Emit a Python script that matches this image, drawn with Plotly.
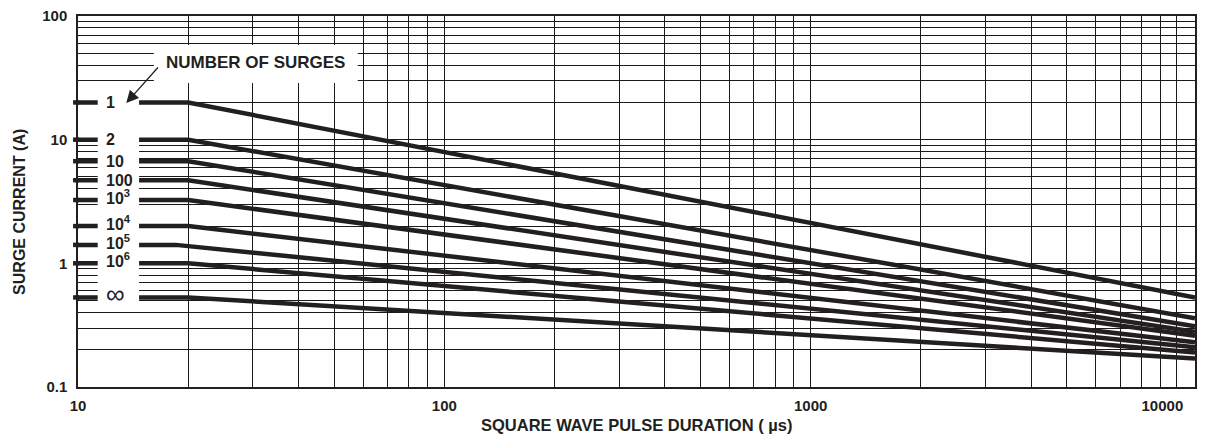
import numpy as np
import plotly.graph_objects as go

# ---------------- data ----------------
surge_labels = ["1", "2", "10", "100", "10<sup>3</sup>", "10<sup>4</sup>",
                "10<sup>5</sup>", "10<sup>6</sup>", "∞"]
flat_current_a = [20.0, 10.0, 6.7, 4.7, 3.25, 2.0, 1.41, 1.0, 0.53]
knee_duration_us = [20, 20, 20, 20, 20, 20, 18.5, 20, 20]
end_current_a = [0.53, 0.36, 0.31, 0.28, 0.26, 0.23, 0.21, 0.19, 0.17]
start_duration_us = 10
end_duration_us = 11200

x_decades = [10, 100, 1000, 10000]
x_decade_labels = ["10", "100", "1000", "10000"]
x_minor = [d * 10 ** k for k in range(1, 4) for d in range(2, 10)]
y_decades = [0.1, 1, 10, 100]
y_decade_labels = ["0.1", "1", "10", "100"]
y_minor = [round(d * 10.0 ** k, 4) for k in range(-1, 2) for d in range(2, 10)]

# ---------------- style ----------------
W, H = 1213, 441
ML, MR, MT, MB = 78, 1, 16, 54
PW, PH = W - ML - MR, H - MT - MB
INK = "#231f20"
GRID = "#1a1a1a"
FONT = "Liberation Sans"
NBSP = "\u00a0"


def px_x(p):                 # screen pixel -> paper
    return (p - ML) / PW


def px_y(p):
    return (H - MB - p) / PH


# last x label sits left of its grid line in the reference
x_tick_text = x_decade_labels[:-1] + [x_decade_labels[-1] + NBSP * 7]

fig = go.Figure()

for lab, yf, xk, ye in zip(surge_labels, flat_current_a, knee_duration_us, end_current_a):
    fig.add_trace(go.Scatter(
        x=[start_duration_us, xk, end_duration_us],
        y=[yf, yf, ye],
        mode="lines",
        line=dict(color=INK, width=4.5),
        name=lab,
        showlegend=False,
        hoverinfo="skip",
    ))

shapes = []
# white label column and legend box (interrupt grid and lines)
shapes.append(dict(type="rect", xref="paper", yref="paper",
                   x0=px_x(98), x1=px_x(140), y0=px_y(306), y1=px_y(86),
                   fillcolor="white", line=dict(width=0), layer="above"))
shapes.append(dict(type="rect", xref="paper", yref="paper",
                   x0=px_x(155), x1=px_x(362), y0=px_y(83), y1=px_y(45),
                   fillcolor="white", line=dict(width=0), layer="above"))
# short stubs of each curve left of the axis
for yf in flat_current_a:
    shapes.append(dict(type="line", xref="paper", yref="y",
                       x0=px_x(73), x1=px_x(79), y0=yf, y1=yf,
                       line=dict(color=INK, width=4.5), layer="above"))

annotations = []
for lab, yf in zip(surge_labels, flat_current_a):
    is_inf = lab == "∞"
    annotations.append(dict(
        x=px_x(104), xref="paper", y=np.log10(yf), yref="y",
        text="<b>%s</b>" % lab if not is_inf else lab,
        showarrow=False, xanchor="left", yanchor="middle",
        yshift=3 if is_inf else (3 if "sup" in lab else 0),
        font=dict(family=FONT, size=26 if is_inf else 16, color=INK),
    ))
annotations.append(dict(
    x=px_x(258), y=px_y(63), xref="paper", yref="paper",
    xanchor="center", yanchor="middle",
    text="<b>NUMBER OF SURGES</b>", showarrow=False,
    font=dict(family=FONT, size=17, color=INK),
))
annotations.append(dict(
    x=px_x(127), y=px_y(103), xref="paper", yref="paper",
    text="", showarrow=True, arrowhead=2, arrowsize=1.9, arrowwidth=1.3,
    arrowcolor=INK, ax=33, ay=-37,
))
annotations.append(dict(
    x=px_x(18), y=px_y(212), xref="paper", yref="paper",
    xanchor="center", yanchor="middle",
    text="<b>SURGE CURRENT (A)</b>", textangle=-90, showarrow=False,
    font=dict(family=FONT, size=16, color=INK),
))
annotations.append(dict(
    x=px_x(645), y=px_y(425), xref="paper", yref="paper",
    xanchor="center", yanchor="middle",
    text="<b>SQUARE WAVE PULSE DURATION ( µs)</b>", showarrow=False,
    font=dict(family=FONT, size=16.5, color=INK),
))

fig.update_layout(
    width=W, height=H,
    margin=dict(l=ML, r=MR, t=MT, b=MB),
    paper_bgcolor="white", plot_bgcolor="white",
    shapes=shapes, annotations=annotations,
    showlegend=False,
)
fig.update_xaxes(
    type="log", range=[np.log10(start_duration_us), np.log10(end_duration_us)],
    tickvals=x_decades, ticktext=x_tick_text, ticks="",
    showgrid=True, gridcolor=GRID, gridwidth=1,
    minor=dict(tickvals=x_minor, showgrid=True, gridcolor=GRID, gridwidth=1, ticks=""),
    showline=True, linecolor=INK, linewidth=1.5, mirror=True,
    tickfont=dict(family=FONT, size=15, color=INK, weight="bold"),
    ticklabelstandoff=4, ticklabeloverflow="allow", zeroline=False,
)
fig.update_yaxes(
    type="log", range=[-1, 2],
    tickvals=y_decades, ticktext=y_decade_labels, ticks="",
    showgrid=True, gridcolor=GRID, gridwidth=1,
    minor=dict(tickvals=y_minor, showgrid=True, gridcolor=GRID, gridwidth=1, ticks=""),
    showline=True, linecolor=INK, linewidth=1.5, mirror=True,
    tickfont=dict(family=FONT, size=15, color=INK, weight="bold"),
    ticklabelstandoff=6, ticklabeloverflow="allow", zeroline=False,
)

fig.write_html(
    "out.html",
    config={"displayModeBar": False},
    post_script="document.body.style.margin='0';document.body.style.overflow='hidden';",
)
